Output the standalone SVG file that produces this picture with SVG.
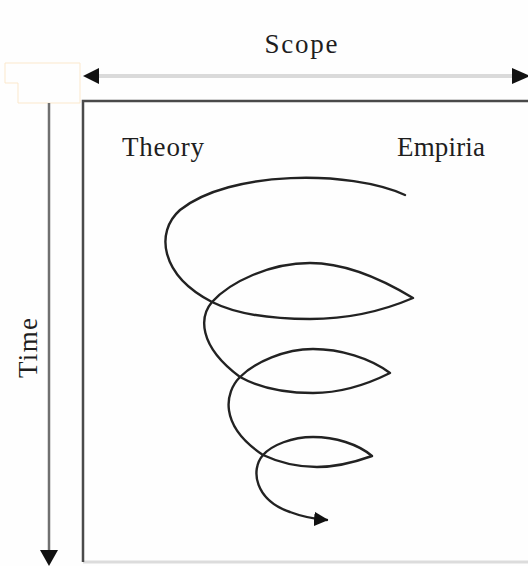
<svg xmlns="http://www.w3.org/2000/svg" width="528" height="566" viewBox="0 0 528 566">
  <style>
    .lbl { font-family: "Liberation Serif", "Times New Roman", serif; font-size: 27px; fill: #1e1e1e; }
    .spiral { fill: none; stroke: #222; stroke-width: 2.4; stroke-linecap: round; stroke-linejoin: round; }
  </style>
  <defs>
    <marker id="ah" viewBox="0 0 10 10" refX="9" refY="5" markerWidth="6" markerHeight="6" markerUnits="strokeWidth" orient="auto">
      <path d="M0,0 L10,5 L0,10 Z" fill="#111"/>
    </marker>
  </defs>
  <rect width="528" height="566" fill="#fefefe"/>

  <g id="frame">
    <path d="M5,63 H80 V103 H18 V83 H5 Z" fill="none" stroke="#fbe8cc" stroke-width="1"/>
    <line x1="83" y1="562" x2="528" y2="562" stroke="#dcdcdc" stroke-width="3"/>
    <path d="M528,101 H83 V562" fill="none" stroke="#4a4a4a" stroke-width="2.5"/>
  </g>

  <g id="connectors">
    <g id="scope-axis">
      <line x1="96" y1="76" x2="514" y2="76" stroke="#dadada" stroke-width="4"/>
      <path d="M83,76 L99,68 L99,84 Z" fill="#111"/>
      <path d="M530,76 L512,68 L512,84 Z" fill="#111"/>
    </g>
    <g id="time-axis">
      <line x1="49" y1="103" x2="49" y2="552" stroke="#707070" stroke-width="2.5"/>
      <path d="M49,566 L40,550 L58,550 Z" fill="#111"/>
    </g>
    <path id="spiral" class="spiral" marker-end="url(#ah)" d="M405,195 C350,170 230,170 180,210 C155,232 160,275 212,302 C240,316 280,319 310,319 C350,319 385,310 413,298 C380,278 345,263 310,263 C270,263 230,282 212,302 C200,316 197,345 240,377 C260,388 285,393 313,393 C345,393 370,383 390,373 C370,358 340,349 313,349 C285,349 255,362 240,377 C225,392 218,425 263,455 C280,463 298,467 317,467 C340,467 358,461 372,456 C358,444 335,437 313,437 C292,437 272,445 263,455 C250,470 255,500 290,512 C303,517 315,519 327,520"/>
  </g>

  <g id="scope"><text class="lbl" x="301" y="53" text-anchor="middle" textLength="73" font-size="28">Scope</text></g>
  <g id="time"><text class="lbl" transform="translate(37,348) rotate(-90)" text-anchor="middle" textLength="60" font-size="28">Time</text></g>
  <g id="theory"><text class="lbl" x="122" y="156" textLength="82">Theory</text></g>
  <g id="empiria"><text class="lbl" x="397" y="156" textLength="88">Empiria</text></g>
</svg>
